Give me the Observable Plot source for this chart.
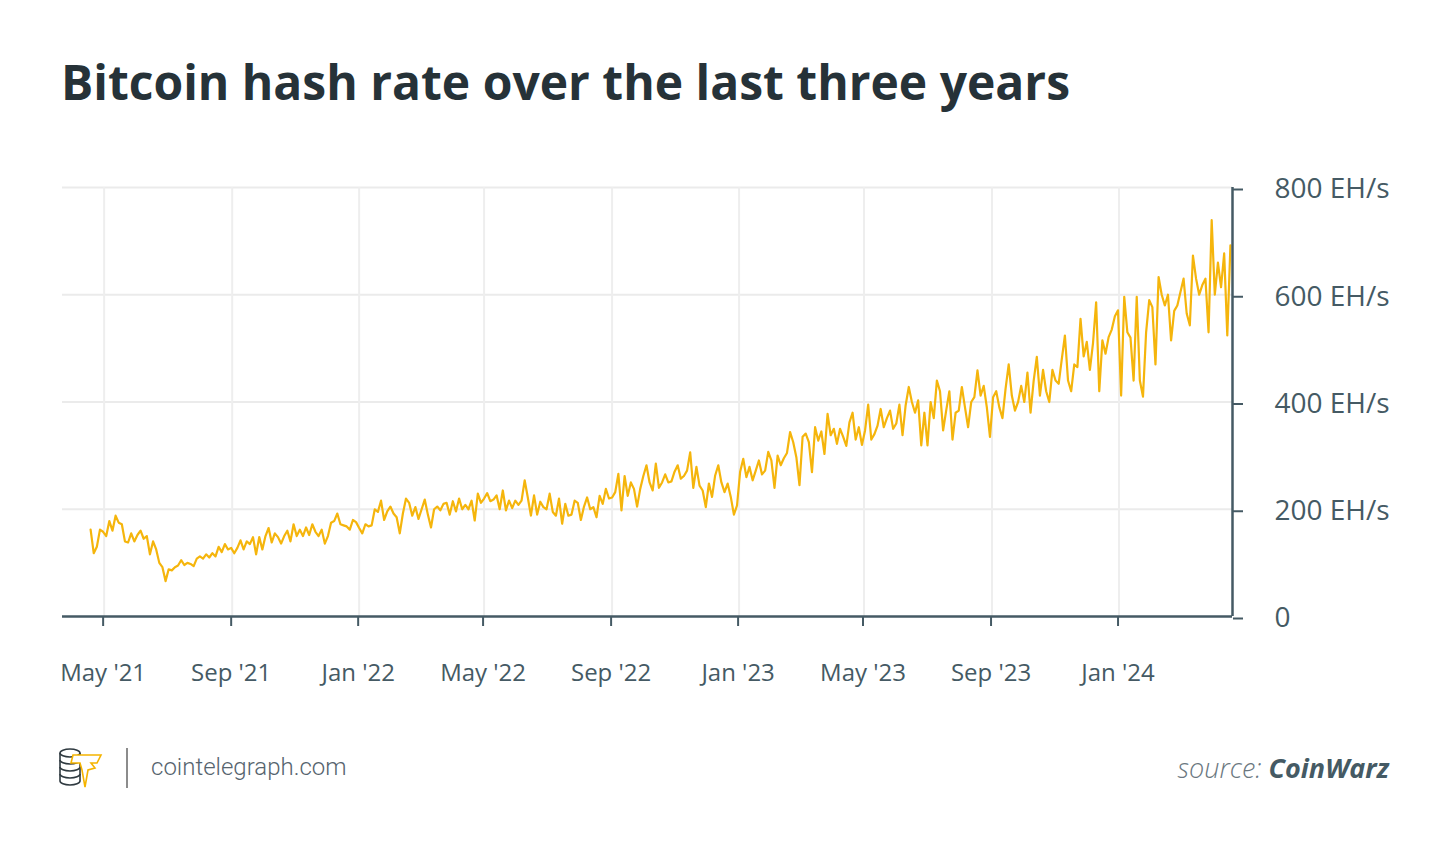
<!DOCTYPE html>
<html>
<head>
<meta charset="utf-8">
<script src="https://cdn.jsdelivr.net/npm/d3@7"></script>
<script src="https://cdn.jsdelivr.net/npm/@observablehq/plot@0.6"></script>
<style>
  html, body { margin: 0; padding: 0; background: #ffffff; }
  #page { position: relative; width: 1450px; height: 848px; overflow: hidden; background: #fff; }
  #title { position: absolute; left: 61px; top: 58px; margin: 0; font-family: "Open Sans", sans-serif; font-weight: 700; font-size: 48px; line-height: 48px; color: #263238; white-space: nowrap; }
  #chart { position: absolute; left: 0; top: 150px; }
  #logo { position: absolute; left: 55px; top: 744px; }
  #sep { position: absolute; left: 126px; top: 748px; width: 2px; height: 40px; background: #8c8c8c; }
  #site { position: absolute; left: 151px; top: 755px; font-family: Roboto, sans-serif; font-weight: 300; font-size: 24px; line-height: 24px; color: #56646e; white-space: nowrap; }
  #source { position: absolute; right: 61px; top: 754px; font-family: "Open Sans", sans-serif; font-style: italic; font-size: 27px; line-height: 27px; white-space: nowrap; }
  #source .lbl { font-weight: 300; color: #6b7780; }
  #source .src { font-weight: 700; color: #455a64; }
</style>
</head>
<body>
<div id="page">
  <h1 id="title">Bitcoin hash rate over the last three years</h1>
  <div id="chart"></div>
  <svg id="logo" width="50" height="48" viewBox="55 744 50 48">
    <g fill="#ffffff" stroke="#2f3a40" stroke-width="1.6">
      <path d="M60,774 v7 a10,4 0 0 0 20,0 v-7"/>
      <path d="M60,767 v7 a10,4 0 0 0 20,0 v-7"/>
      <path d="M60,760 v7 a10,4 0 0 0 20,0 v-7"/>
      <path d="M60,753 v7 a10,4 0 0 0 20,0 v-7"/>
      <ellipse cx="70" cy="753" rx="10" ry="4"/>
    </g>
    <path d="M73,755 L101,755 L97,763 L91,763 L95,768 L88,770 L85,787 L82,770 L80,763 L71,763 Z" fill="#ffffff" stroke="#f5b400" stroke-width="1.6" stroke-linejoin="miter"/>
  </svg>
  <div id="sep"></div>
  <div id="site">cointelegraph.com</div>
  <div id="source"><span class="lbl">source: </span><span class="src">CoinWarz</span></div>
</div>
<script>
// Daily hash-rate series sampled every 3 days (EH/s), starting 18 Apr 2021
const startDate = "2021-04-18";
const stepDays = 3;
const hashRate = [
  162,118,130,162,158,150,178,160,188,175,
  172,140,138,155,140,152,160,145,150,116,
  140,125,100,92,66,88,86,92,95,105,
  96,100,98,94,108,112,108,116,110,118,
  112,130,120,135,125,128,118,128,142,125,
  140,135,148,116,148,125,150,165,138,155,
  148,
  136,150,160,140,172,150,162,150,166,152,
  172,158,150,162,136,150,175,178,192,172,
  170,168,162,180,176,165,155,172,168,170,
  200,195,216,180,196,205,192,185,155,192,
  220,212,188,204,182,200,218,190,166,200,
  205,198,210,212,190,215,196,220,200,208,
  200,
  216,179,229,212,220,230,215,218,226,200,
  235,198,216,202,216,208,216,254,222,188,
  226,190,214,204,200,229,195,188,220,173,
  210,188,190,216,212,180,205,222,200,204,
  185,225,210,238,220,222,232,266,198,262,
  225,250,238,205,238,262,282,250,235,285,
  240,
  250,265,250,252,270,282,257,262,272,306,
  240,279,244,235,204,248,223,263,282,250,
  232,248,223,190,207,270,294,260,279,254,
  272,291,265,272,307,291,240,300,282,295,
  305,344,325,297,245,335,341,325,269,353,
  328,345,303,378,338,350,322,350,335,318,
  362,
  380,330,353,320,347,395,330,340,356,387,
  353,370,384,350,360,395,338,394,428,400,
  380,403,319,380,319,400,370,440,420,347,
  385,420,330,380,384,428,390,353,400,409,
  459,412,430,390,335,409,420,390,370,425,
  470,412,384,400,430,400,455,380,440,484,
  412,
  460,420,400,460,440,434,480,524,440,420,
  470,465,555,485,512,460,510,586,420,515,
  490,521,535,560,571,412,596,530,520,440,
  596,440,410,530,590,577,470,633,600,580,
  600,515,570,580,605,630,565,543,673,630,
  600,618,630,530,739,600,660,614,677,524,
  692
];

const xDomain = ["2021-03-22", "2024-04-19"];
const xTickDates = ["2021-05-01","2021-09-01","2022-01-01","2022-05-01","2022-09-01","2023-01-01","2023-05-01","2023-09-01","2024-01-01"];
const xTickLabels = ["May '21","Sep '21","Jan '22","May '22","Sep '22","Jan '23","May '23","Sep '23","Jan '24"];
const yTicks = [0, 200, 400, 600, 800];
const yTickLabels = ["0", "200 EH/s", "400 EH/s", "600 EH/s", "800 EH/s"];

const parse = s => new Date(s + "T00:00:00Z");
const data = hashRate.map((v, i) => ({ date: d3.utcDay.offset(parse(startDate), i * stepDays), value: v }));
const xTicks = xTickDates.map(parse);
const xLabelMap = new Map(xTicks.map((d, i) => [+d, xTickLabels[i]]));
const yLabelMap = new Map(yTicks.map((d, i) => [d, yTickLabels[i]]));
const domain = xDomain.map(parse);

const axisColor = "#455a64";

const chart = Plot.plot({
  width: 1450,
  height: 560,
  marginLeft: 62,
  marginRight: 218,
  marginTop: 37,
  marginBottom: 94,
  style: { fontFamily: "'Open Sans', sans-serif", background: "transparent", overflow: "visible" },
  x: { type: "utc", domain },
  y: { domain: [0, 800] },
  marks: [
    Plot.gridY(yTicks.filter(d => d > 0), { stroke: "#ebebeb", strokeOpacity: 1, strokeWidth: 2 }),
    Plot.gridX(xTicks, { stroke: "#eeeeee", strokeOpacity: 1, strokeWidth: 2 }),
    Plot.line(data, { x: "date", y: "value", stroke: "#f5b50c", strokeWidth: 2.2 }),
    Plot.ruleY([0], { stroke: axisColor, strokeWidth: 2.5 }),
    Plot.ruleX([domain[1]], { y1: 0, y2: 800, stroke: axisColor, strokeWidth: 2.5 }),
    Plot.axisX({
      ticks: xTicks,
      tickFormat: d => xLabelMap.get(+d),
      tickSize: 10,
      tickPadding: 37,
      fontSize: 24,
      dx: -1,
      stroke: axisColor,
      strokeWidth: 2,
      fill: axisColor,
      label: null
    }),
    Plot.axisY({
      anchor: "right",
      ticks: yTicks,
      tickFormat: d => yLabelMap.get(d),
      tickSize: 10,
      tickPadding: 32,
      fontSize: 28,
      dy: 2,
      stroke: axisColor,
      strokeWidth: 2,
      fill: axisColor,
      label: null
    })
  ]
});
document.getElementById("chart").appendChild(chart);
</script>
</body>
</html>
